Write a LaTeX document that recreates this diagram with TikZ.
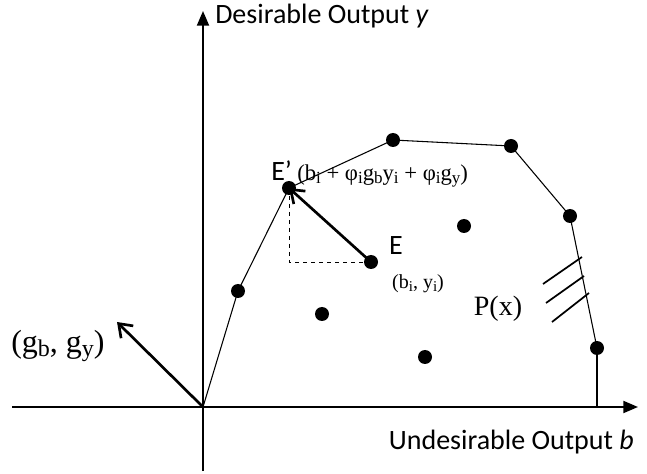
\documentclass[tikz,border=0pt]{standalone}
\usepackage{fontspec}
\setmainfont{Liberation Serif}
\setsansfont{Carlito}
\usepackage{tikz}
\usetikzlibrary{calc, positioning, arrows.meta}

\newcommand{\sub}[1]{\raisebox{-0.25ex}{\scalebox{0.75}{#1}}}

\begin{document}
\begin{tikzpicture}[
  x=0.75pt, y=-0.75pt,
  dot/.style={circle, fill=black, inner sep=0pt, minimum size=10.5pt},
  axis/.style={line width=1.5pt, -{Triangle[length=11pt, width=9pt]}},
  frontier/.style={line width=0.8pt},
  vec/.style={line width=2pt, -{Straight Barb[length=9pt, width=13pt, line width=2pt]}},
  lbl/.style={font=\sffamily\fontsize{21}{23}\selectfont, inner sep=0pt},
  mathlbl/.style={font=\fontsize{17}{19}\selectfont, inner sep=0pt}
]
  \useasboundingbox (0,0) rectangle (647,474);

  % axes
  \coordinate (o) at (203,407);
  \coordinate (xs) at (12,407);
  \coordinate (xe) at (638,407);
  \coordinate (ys) at (203,471);
  \coordinate (ye) at (203,11);
  \draw[axis] (xs) -- (xe);
  \draw[axis] (ys) -- (ye);
  \node[lbl, anchor=west] (ylab) at (215,16) {Desirable Output \textit{y}};
  \node[lbl, anchor=east] (xlab) at (634,442) {Undesirable Output \textit{b}};

  % frontier points
  \node[dot] (f1) at (238,291) {};
  \node[dot] (ep) at (289,188) {};
  \node[dot] (f3) at (393,140) {};
  \node[dot] (f4) at (511,146) {};
  \node[dot] (f5) at (570,216) {};
  \node[dot] (f6) at (597,348) {};
  \coordinate (f7) at (597,407);

  % interior points
  \node[dot] (e) at (371,262) {};
  \node[dot] (p1) at (464,226) {};
  \node[dot] (p2) at (322,314) {};
  \node[dot] (p3) at (425,357) {};

  \draw[frontier] (o) -- (f1.center) -- (ep.center) -- (f3.center) -- (f4.center)
    -- (f5.center) -- (f6.center);
  \draw[line width=1.5pt] (f6.center) -- (f7);

  % projection of E onto the frontier
  \coordinate (corner) at (ep |- e);
  \draw[dashed, line width=0.6pt] (ep.center) -- (corner) -- (e.center);
  \draw[vec] (e.center) -- (ep.center);

  % direction vector
  \coordinate (g) at (117,322);
  \draw[vec] (o) -- (g);
  \node[mathlbl, font=\fontsize{24}{26}\selectfont] (glab) at (58,346) {(g\sub{b}, g\sub{y})};

  % labels
  \node[lbl, anchor=west] (eplab) at (271,174) {E’\hspace{4pt}\normalfont\fontsize{17}{19}\selectfont
    (b\sub{i} + φ\sub{i}g\sub{b}y\sub{i} + φ\sub{i}g\sub{y})};
  \node[lbl] (elab) at (396,246) {E};
  \node[mathlbl, font=\fontsize{15}{17}\selectfont] (ecoord) at (418,284) {(b\sub{i}, y\sub{i})};

  % hatching of the technology set
  \coordinate (h1a) at (582,257);
  \coordinate (h1b) at (543,284);
  \coordinate (h2a) at (584,276);
  \coordinate (h2b) at (546,303);
  \coordinate (h3a) at (589,293);
  \coordinate (h3b) at (552,322);
  \foreach \i in {1,2,3}
    \draw[line width=1.3pt] (h\i a) -- (h\i b);
  \node[mathlbl, font=\fontsize{21}{23}\selectfont] (px) at (498,309) {P(x)};
\end{tikzpicture}
\end{document}
